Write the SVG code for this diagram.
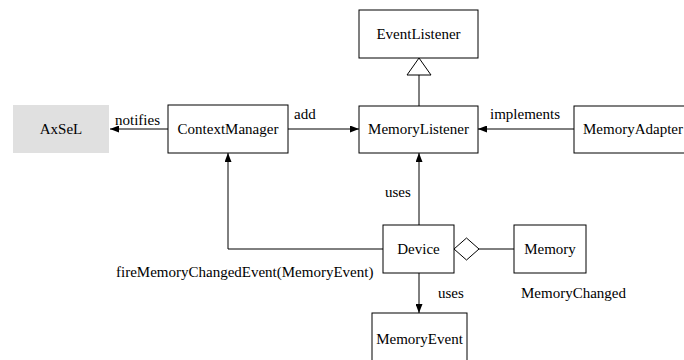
<svg xmlns="http://www.w3.org/2000/svg" width="684" height="360" viewBox="0 0 684 360">
<defs>
<marker id="arr" markerWidth="9" markerHeight="7" refX="9" refY="3.5" orient="auto" markerUnits="userSpaceOnUse">
<path d="M0,0 L9,3.5 L0,7 Z" fill="#000"/>
</marker>
<style>
.box{fill:#fff;stroke:#000;stroke-width:1}
.t{font-family:"Liberation Serif","Times New Roman",serif;font-size:15px;fill:#000}
.c{text-anchor:middle}
.ln{fill:none;stroke:#000;stroke-width:1}
</style>
</defs>
<rect width="684" height="360" fill="#fff"/>
<g id="connectors">
<line class="ln" x1="168" y1="129" x2="110" y2="129" marker-end="url(#arr)"/>
<line class="ln" x1="288" y1="129" x2="359" y2="129" marker-end="url(#arr)"/>
<line class="ln" x1="574" y1="129" x2="478" y2="129" marker-end="url(#arr)"/>
<line class="ln" x1="419" y1="106" x2="419" y2="75"/>
<polygon points="419,58 407,75 431,75" fill="#fff" stroke="#000"/>
<line class="ln" x1="419" y1="225" x2="419" y2="153" marker-end="url(#arr)"/>
<polyline class="ln" points="383,249 228,249 228,153" marker-end="url(#arr)"/>
<line class="ln" x1="419" y1="273" x2="419" y2="313" marker-end="url(#arr)"/>
<polygon points="454,249 466.5,238 479,249 466.5,260" fill="#fff" stroke="#000"/>
<line class="ln" x1="479" y1="249" x2="514" y2="249"/>
<text class="t" x="115" y="125">notifies</text>
<text class="t" x="294" y="119">add</text>
<text class="t" x="490" y="119">implements</text>
<text class="t" x="385" y="197">uses</text>
<text class="t" x="438" y="298">uses</text>
<text class="t" x="116" y="277">fireMemoryChangedEvent(MemoryEvent)</text>
<text class="t" x="521" y="298">MemoryChanged</text>
</g>
<g id="AxSeL">
<rect x="13" y="105" width="96" height="48" fill="#e0e0e0"/>
<text class="t c" x="61" y="134">AxSeL</text>
</g>
<g id="ContextManager">
<rect class="box" x="168" y="105" width="120" height="48"/>
<text class="t c" x="228" y="134">ContextManager</text>
</g>
<g id="EventListener">
<rect class="box" x="359" y="10" width="119" height="48"/>
<text class="t c" x="418.5" y="39">EventListener</text>
</g>
<g id="MemoryListener">
<rect class="box" x="359" y="106" width="119" height="47"/>
<text class="t c" x="418.5" y="134">MemoryListener</text>
</g>
<g id="MemoryAdapter">
<rect class="box" x="574" y="106" width="120" height="47"/>
<text class="t" x="583" y="134">MemoryAdapter</text>
</g>
<g id="Device">
<rect class="box" x="383" y="225" width="71" height="48"/>
<text class="t c" x="418.5" y="254">Device</text>
</g>
<g id="Memory">
<rect class="box" x="514" y="225" width="72" height="48"/>
<text class="t c" x="550" y="254">Memory</text>
</g>
<g id="MemoryEvent">
<rect class="box" x="372" y="313" width="95" height="60"/>
<text class="t c" x="419.5" y="344">MemoryEvent</text>
</g>
</svg>
